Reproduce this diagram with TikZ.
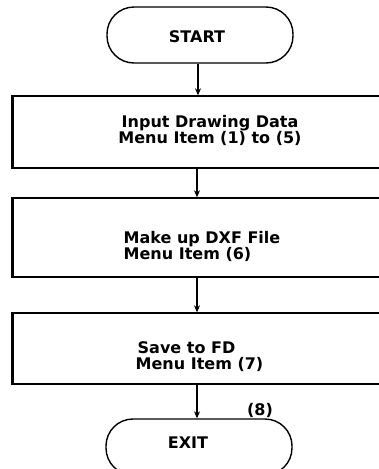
\documentclass[tikz,border=0pt]{standalone}
\usepackage{fontspec}
\setmainfont{DejaVu Sans}
\usetikzlibrary{arrows.meta}

\tikzset{every picture/.style={line width=1.4pt}}
\tikzset{
  terminal/.style={draw, rounded corners=27pt, minimum width=186pt, minimum height=56pt, inner sep=0pt},
  stepbox/.style={draw, minimum width=388pt, inner sep=0pt},
  boxtext/.style={font=\fontsize{16}{16}\selectfont\bfseries, inner sep=0pt, align=left},
  flow/.style={-{Stealth[length=7pt,width=6pt]}, line width=1.6pt}
}

\begin{document}
\begin{tikzpicture}[x=1pt,y=1pt,yscale=-1,xscale=1]
\useasboundingbox (0,0) rectangle (379,469);
\clip (0,0) rectangle (379,469);

% Terminals
\node [terminal] (start) at (200,35) {};
\node [terminal] (exit) at (199,447) {};
\node [boxtext] (starttxt) at (197,37) {START};
\node [boxtext] (exittxt) at (188,443) {EXIT};

% Steps
\node [stepbox, minimum height=72pt] (input) at (207,132) {};
\node [stepbox, minimum height=79pt] (dxf) at (207,237.5) {};
\node [stepbox, minimum height=71pt] (save) at (207,348.5) {};

% thicker left sides
\foreach \b in {input,dxf,save}
  \draw [line width=2.6pt] (\b.north west) -- (\b.south west);

% Text Node
\node [boxtext, align=center] (inputtxt) at (210,130) {Input Drawing Data\\Menu Item (1) to (5)};
% Text Node
\node [boxtext, anchor=west] (dxftxt) at (123,246) {Make up DXF File\\Menu Item (6)};
% Text Node
\node [boxtext, anchor=west] (savetxt) at (135,357) {\hspace{2pt}Save to FD\\Menu Item (7)};
% Text Node
\node [boxtext] (eight) at (260,410) {(8)};

% Connectors
\draw [flow] (start.south -| 198,0) -- (input.north -| 198,0);
\draw [flow] (input.south -| 197,0) -- (dxf.north -| 197,0);
\draw [flow] (dxf.south -| 197,0) -- (save.north -| 197,0);
\draw [flow] (save.south -| 197,0) -- (exit.north -| 197,0);

\end{tikzpicture}
\end{document}
